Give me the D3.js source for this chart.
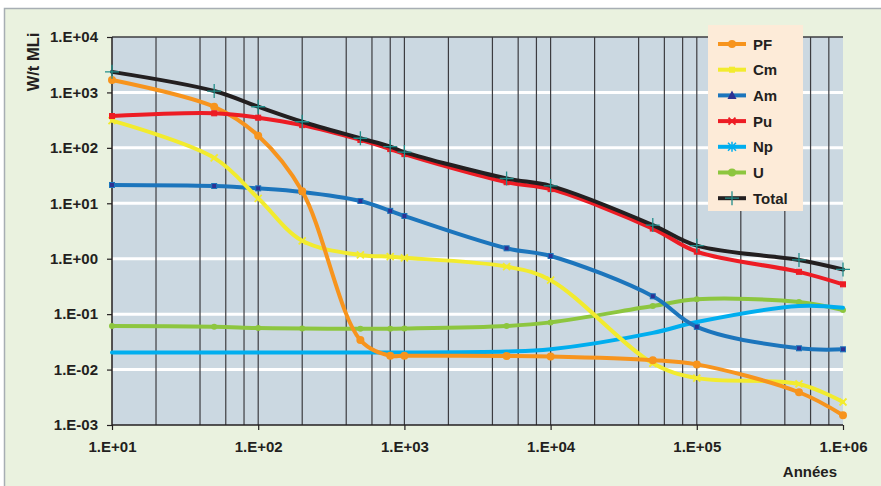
<!DOCTYPE html>
<html>
<head>
<meta charset="utf-8">
<script src="https://cdn.jsdelivr.net/npm/d3@7"></script>
<style>
  body { margin: 0; background: #fff; }
  svg { display: block; }
  text { font-family: "Liberation Sans", Arial, sans-serif; font-weight: bold; fill: #231f20; }
</style>
</head>
<body>
<svg id="chart" width="881" height="486"></svg>
<script>
// years (x values)
var years = [10, 50, 100, 200, 500, 800, 1000, 5000, 10000, 50000, 100000, 500000, 1000000];

// W/t MLi per element
var pf    = [1680, 550, 166, 16.5, 0.034, 0.0178, 0.0178, 0.0176, 0.0172, 0.0148, 0.0124, 0.0039, 0.0015];
var cm    = [310, 66, 12.3, 2.1, 1.17, 1.09, 1.04, 0.72, 0.41, 0.013, 0.0070, 0.0055, 0.0026];
var am    = [21.4, 20.5, 18.6, 16, 11, 7.3, 5.9, 1.54, 1.12, 0.21, 0.059, 0.0242, 0.0232];
var pu    = [375, 420, 350, 257, 139, 95, 77, 24, 18, 3.5, 1.34, 0.58, 0.345];
var np    = [0.0203, 0.0203, 0.0203, 0.0203, 0.0203, 0.0203, 0.0203, 0.0211, 0.0233, 0.046, 0.072, 0.14, 0.13];
var u     = [0.061, 0.059, 0.056, 0.055, 0.0546, 0.0546, 0.055, 0.061, 0.071, 0.14, 0.185, 0.166, 0.119];
var total = [2350, 1060, 552, 296, 149, 105, 84, 28, 20.6, 4.05, 1.72, 0.95, 0.64];

var names  = ["PF", "Cm", "Am", "Pu", "Np", "U", "Total"];
var values = [pf, cm, am, pu, np, u, total];
var colors = ["#f7941d", "#f2eb2e", "#1c75bc", "#ed1c24", "#00aeef", "#8dc63f", "#231f20"];
var markers = ["circle", "cross", "square", "square", "none", "dot", "plus"];
var legendMarkers = ["circle", "square", "triangle", "x", "star", "circle", "plus"];

var yTicks = [1e-3, 1e-2, 1e-1, 1, 10, 100, 1e3, 1e4];
var yTickLabels = ["1.E-03", "1.E-02", "1.E-01", "1.E+00", "1.E+01", "1.E+02", "1.E+03", "1.E+04"];
var xTicks = [10, 100, 1e3, 1e4, 1e5, 1e6];
var xTickLabels = ["1.E+01", "1.E+02", "1.E+03", "1.E+04", "1.E+05", "1.E+06"];

var svg = d3.select("#chart");

// outer panel
svg.append("rect").attr("x", 4).attr("y", 8).attr("width", 877).attr("height", 478)
  .attr("fill", "#eaf2df");
svg.append("path").attr("d", "M4.5,486V8.5H881").attr("fill", "none")
  .attr("stroke", "#a7aeb3").attr("stroke-width", 1.5);

var pLeft = 112, pRight = 843, pTop = 37, pBottom = 425;

var x = d3.scaleLog().domain([10, 1e6]).range([pLeft, pRight]);
var y = d3.scaleLog().domain([1e-3, 1e4]).range([pBottom, pTop]);

svg.append("rect").attr("x", pLeft).attr("y", pTop)
  .attr("width", pRight - pLeft).attr("height", pBottom - pTop)
  .attr("fill", "#cbd8e1");

// horizontal white grid
svg.append("g").selectAll("line")
  .data(yTicks.slice(1, -1))
  .join("line")
  .attr("x1", pLeft).attr("x2", pRight)
  .attr("y1", function(d){ return y(d); }).attr("y2", function(d){ return y(d); })
  .attr("stroke", "#ffffff").attr("stroke-width", 3);

// vertical grid at 2,4,6,8 x 10^k and the decades
var vgrid = [];
for (var k = 1; k <= 5; k++) {
  [1, 2, 4, 6, 8].forEach(function(m){
    var v = m * Math.pow(10, k);
    if (v > 10) vgrid.push(v);
  });
}
svg.append("g").selectAll("line")
  .data(vgrid)
  .join("line")
  .attr("x1", function(d){ return x(d); }).attr("x2", function(d){ return x(d); })
  .attr("y1", pTop).attr("y2", pBottom)
  .attr("stroke", "#3c3c40").attr("stroke-width", 1.2);

// top border of plot
svg.append("line").attr("x1", pLeft).attr("x2", pRight).attr("y1", pTop).attr("y2", pTop)
  .attr("stroke", "#3c3c40").attr("stroke-width", 1.5);

// axes
var yAxis = d3.axisLeft(y).tickValues(yTicks)
  .tickFormat(function(d, i){ return yTickLabels[i]; })
  .tickSize(5).tickPadding(9);
var gy = svg.append("g").attr("transform", "translate(" + pLeft + ",0)").call(yAxis);

var xAxis = d3.axisBottom(x).tickValues(xTicks)
  .tickFormat(function(d, i){ return xTickLabels[i]; })
  .tickSize(5).tickPadding(11);
var gx = svg.append("g").attr("transform", "translate(0," + pBottom + ")").call(xAxis);

[gx, gy].forEach(function(g){
  g.select(".domain").attr("stroke", "#231f20").attr("stroke-width", 1.5);
  g.selectAll(".tick line").attr("stroke", "#231f20").attr("stroke-width", 1.2);
  g.selectAll(".tick text").attr("font-size", 15).attr("fill", "#231f20")
    .style("font-family", "'Liberation Sans', Arial, sans-serif").style("font-weight", "bold");
});
gy.select(".domain").attr("d", "M0," + pTop + "V" + pBottom);
gx.select(".domain").attr("d", "M" + pLeft + ",0H" + pRight);

// axis titles
svg.append("text").attr("transform", "translate(39,62) rotate(-90)")
  .attr("text-anchor", "middle").attr("font-size", 16.5).text("W/t MLi");
svg.append("text").attr("x", 837).attr("y", 477)
  .attr("text-anchor", "end").attr("font-size", 15).text("Années");

// series
var line = d3.line()
  .x(function(d){ return x(d[0]); })
  .y(function(d){ return y(d[1]); })
  .curve(d3.curveCatmullRom.alpha(0.5));

function drawMarker(g, type, cx, cy, col) {
  if (type == "circle") {
    g.append("circle").attr("cx", cx).attr("cy", cy).attr("r", 4).attr("fill", col);
  } else if (type == "dot") {
    g.append("circle").attr("cx", cx).attr("cy", cy).attr("r", 3).attr("fill", col);
  } else if (type == "square") {
    g.append("rect").attr("x", cx - 2.5).attr("y", cy - 2.5).attr("width", 5).attr("height", 5)
      .attr("fill", col == "#1c75bc" ? "#2e3192" : col).attr("stroke", col).attr("stroke-width", 1);
  } else if (type == "triangle") {
    g.append("path").attr("d", "M" + cx + "," + (cy - 5) + "L" + (cx + 4.5) + "," + (cy + 3.5) + "L" + (cx - 4.5) + "," + (cy + 3.5) + "Z")
      .attr("fill", "#2e3192");
  } else if (type == "plus") {
    g.append("path").attr("d", "M" + (cx - 7) + "," + cy + "H" + (cx + 7) + "M" + cx + "," + (cy - 7) + "V" + (cy + 7))
      .attr("stroke", "#238e8b").attr("stroke-width", 1.3).attr("fill", "none");
  } else if (type == "cross" || type == "x") {
    g.append("path").attr("d", "M" + (cx - 3.5) + "," + (cy - 3.5) + "L" + (cx + 3.5) + "," + (cy + 3.5) + "M" + (cx + 3.5) + "," + (cy - 3.5) + "L" + (cx - 3.5) + "," + (cy + 3.5))
      .attr("stroke", col).attr("stroke-width", 1.8).attr("fill", "none");
  } else if (type == "star") {
    g.append("path").attr("d", "M" + (cx - 4) + "," + (cy - 4) + "L" + (cx + 4) + "," + (cy + 4) + "M" + (cx + 4) + "," + (cy - 4) + "L" + (cx - 4) + "," + (cy + 4) + "M" + cx + "," + (cy - 5) + "V" + (cy + 5))
      .attr("stroke", col).attr("stroke-width", 1.5).attr("fill", "none");
  }
}

// draw order so PF and Total sit on top like the original
var order = [5, 4, 2, 1, 0, 3, 6];
order.forEach(function(i){
  var pts = years.map(function(yr, j){ return [yr, values[i][j]]; });
  var g = svg.append("g");
  g.append("path").datum(pts).attr("d", line)
    .attr("fill", "none").attr("stroke", colors[i]).attr("stroke-width", 4)
    .attr("stroke-linejoin", "round").attr("stroke-linecap", "round");
  pts.forEach(function(p){
    drawMarker(g, markers[i], x(p[0]), y(p[1]), colors[i]);
  });
});

// legend
var lg = svg.append("g");
lg.append("rect").attr("x", 708).attr("y", 25).attr("width", 95).attr("height", 186).attr("fill", "#fdebd8");
names.forEach(function(n, i){
  var ly = 44 + i * 25.7;
  lg.append("line").attr("x1", 718).attr("x2", 746).attr("y1", ly).attr("y2", ly)
    .attr("stroke", colors[i]).attr("stroke-width", 4);
  drawMarker(lg, legendMarkers[i], 732, ly, colors[i]);
  lg.append("text").attr("x", 753).attr("y", ly + 5.5).attr("font-size", 15).text(n);
});
</script>
</body>
</html>
